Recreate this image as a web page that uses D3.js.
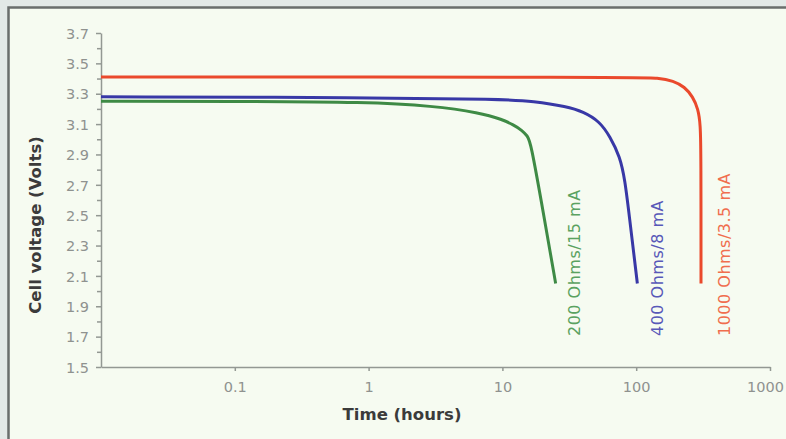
<!DOCTYPE html>
<html>
<head>
<meta charset="utf-8">
<script src="https://cdn.jsdelivr.net/npm/d3@7"></script>
<style>
  body { margin: 0; background: #e3e9e7; }
  svg { display: block; }
</style>
</head>
<body>
<div id="chart"></div>
<script>
var w = 786;
var h = 439;

// tick labels
var xTicks = [0.1, 1, 10, 100, 1000];
var yMajor = [1.5, 1.7, 1.9, 2.1, 2.3, 2.5, 2.7, 2.9, 3.1, 3.3, 3.5, 3.7];
var yMinor = [1.6, 1.8, 2.0, 2.2, 2.4, 2.6, 2.8, 3.0, 3.2, 3.4, 3.6];

// series: [hours, volts]
var green200 = [[0.01, 3.25], [0.1, 3.25], [1, 3.245], [3, 3.22], [6.8, 3.175], [10, 3.13],
                [12.1, 3.095], [14, 3.06], [15.4, 3.02], [16.2, 2.99], [20.3, 2.51], [25, 2.05]];
var blue400 = [[0.01, 3.28], [1, 3.275], [10, 3.265], [17, 3.25], [30.4, 3.215], [40, 3.182],
               [53.6, 3.116], [63.7, 3.017], [75.7, 2.885], [82.4, 2.73], [88.3, 2.514], [102, 2.05]];
var red1000 = [[0.01, 3.41], [100, 3.41], [146, 3.405], [190, 3.385], [230, 3.345], [265, 3.28],
               [290, 3.2], [302, 3.1], [305, 2.9], [305, 2.05]];

var seriesNames = ["200 Ohms/15 mA", "400 Ohms/8 mA", "1000 Ohms/3.5 mA"];
var seriesData = [green200, blue400, red1000];
var lineColors = ["#3e8a45", "#3838a6", "#ea492c"];
var textColors = ["#5aa260", "#5858b8", "#f06e4e"];

var svg = d3.select("#chart")
            .append("svg")
            .attr("width", w)
            .attr("height", h);

// panel frame
svg.append("rect")
   .attr("x", 8.5)
   .attr("y", 7.5)
   .attr("width", w)
   .attr("height", h)
   .attr("fill", "#f6fbf1")
   .attr("stroke", "#6a6e6c")
   .attr("stroke-width", 2.5);

var xScale = d3.scaleLog()
               .domain([0.01, 1000])
               .range([101, 770]);

var yScale = d3.scaleLinear()
               .domain([1.5, 3.7])
               .range([367, 33]);

var axisColor = "#939893";
var tickFont = "'DejaVu Sans', sans-serif";

// x axis
var xAxis = svg.append("g")
   .attr("transform", "translate(0," + yScale(1.5) + ")")
   .call(d3.axisBottom(xScale)
           .tickValues(xTicks)
           .tickFormat(d3.format("~g"))
           .tickSize(4)
           .tickSizeOuter(0));

// y axis
var yAxis = svg.append("g")
   .attr("transform", "translate(" + xScale(0.01) + ",0)")
   .call(d3.axisLeft(yScale)
           .tickValues(yMajor)
           .tickFormat(d3.format(".1f"))
           .tickSize(5)
           .tickSizeOuter(0));

svg.append("g")
   .attr("transform", "translate(" + xScale(0.01) + ",0)")
   .call(d3.axisLeft(yScale)
           .tickValues(yMinor)
           .tickFormat("")
           .tickSize(4)
           .tickSizeOuter(0))
   .select(".domain").remove();

svg.selectAll(".domain, .tick line")
   .attr("stroke", axisColor)
   .attr("stroke-width", 1.5);

svg.selectAll(".tick text")
   .attr("fill", "#8f928f")
   .attr("font-family", tickFont)
   .attr("font-size", 14.5);

xAxis.selectAll(".tick text")
     .attr("dy", "1.25em")
     .attr("dx", function(d) { return d === 1000 ? -5 : 0; });
yAxis.selectAll(".tick text").attr("dy", "0.36em").attr("x", -12);

// axis titles
svg.append("text")
   .attr("x", 402)
   .attr("y", 420)
   .attr("text-anchor", "middle")
   .attr("font-family", tickFont)
   .attr("font-weight", "bold")
   .attr("font-size", 16.5)
   .attr("fill", "#3b3b3b")
   .text("Time (hours)");

svg.append("text")
   .attr("transform", "translate(41,225) rotate(-90)")
   .attr("text-anchor", "middle")
   .attr("font-family", tickFont)
   .attr("font-weight", "bold")
   .attr("font-size", 16.5)
   .attr("fill", "#3b3b3b")
   .text("Cell voltage (Volts)");

var line = d3.line()
             .x(function(d) { return xScale(d[0]); })
             .y(function(d) { return yScale(d[1]); })
             .curve(d3.curveBasis);

svg.selectAll(".series")
   .data(seriesData)
   .enter()
   .append("path")
   .attr("class", "series")
   .attr("d", line)
   .attr("fill", "none")
   .attr("stroke", function(d, i) { return lineColors[i]; })
   .attr("stroke-width", 3);

// vertical labels next to each curve end
var labelX = [580, 663, 730];
svg.selectAll(".label")
   .data(seriesNames)
   .enter()
   .append("text")
   .attr("class", "label")
   .attr("transform", function(d, i) { return "translate(" + labelX[i] + ",336) rotate(-90)"; })
   .attr("font-family", tickFont)
   .attr("font-size", 16)
   .attr("letter-spacing", 0.5)
   .attr("fill", function(d, i) { return textColors[i]; })
   .text(function(d) { return d; });
</script>
</body>
</html>
